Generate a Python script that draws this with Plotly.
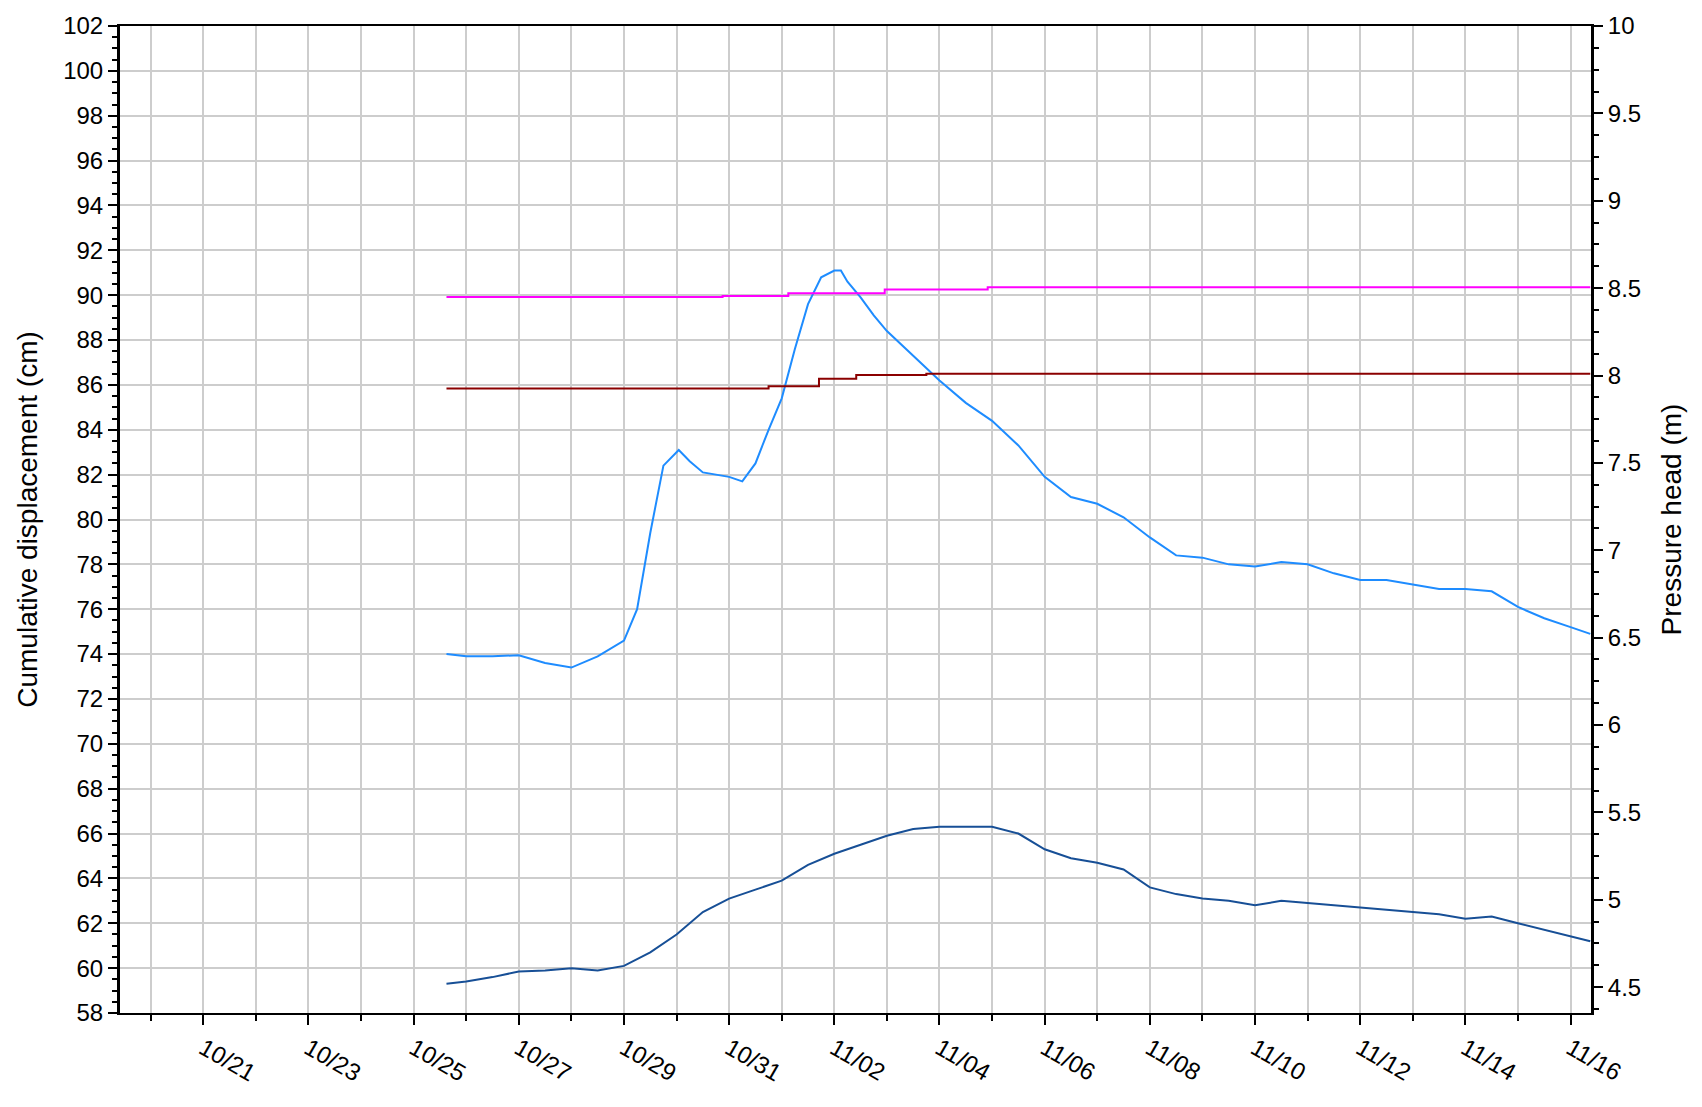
import plotly.graph_objects as go

# ---------------- data ----------------
light_t = ["2010-10-25 15:00", "2010-10-26 00:00", "2010-10-26 12:00", "2010-10-27 00:00",
           "2010-10-27 12:00", "2010-10-28 00:00", "2010-10-28 12:00", "2010-10-29 00:00",
           "2010-10-29 06:00", "2010-10-29 12:00", "2010-10-29 18:00", "2010-10-30 01:00",
           "2010-10-30 06:00", "2010-10-30 12:00", "2010-10-31 00:00", "2010-10-31 06:00",
           "2010-10-31 12:00", "2010-10-31 18:00", "2010-11-01 00:00", "2010-11-01 06:00",
           "2010-11-01 12:00", "2010-11-01 18:00", "2010-11-02 00:00", "2010-11-02 03:00",
           "2010-11-02 06:00", "2010-11-02 12:00", "2010-11-02 18:00", "2010-11-03 00:00",
           "2010-11-03 12:00",
           "2010-11-04 00:00", "2010-11-04 12:00", "2010-11-05 00:00", "2010-11-05 12:00",
           "2010-11-06 00:00", "2010-11-06 12:00", "2010-11-07 00:00", "2010-11-07 12:00",
           "2010-11-08 00:00", "2010-11-08 12:00", "2010-11-09 00:00", "2010-11-09 12:00",
           "2010-11-10 00:00", "2010-11-10 12:00", "2010-11-11 00:00", "2010-11-11 12:00",
           "2010-11-12 00:00", "2010-11-12 12:00", "2010-11-13 00:00", "2010-11-13 12:00",
           "2010-11-14 00:00", "2010-11-14 12:00", "2010-11-15 00:00", "2010-11-15 12:00",
           "2010-11-16 00:00", "2010-11-16 09:00"]
light_v = [74.0, 73.9, 73.9, 73.95, 73.6, 73.4, 73.9, 74.6,
           76.0, 79.4, 82.4, 83.1, 82.6, 82.1, 81.9, 81.7,
           82.5, 84.0, 85.4, 87.6, 89.6, 90.8, 91.1, 91.1,
           90.6, 89.9, 89.1, 88.4, 87.3,
           86.2, 85.2, 84.4, 83.3,
           81.9, 81.0, 80.7, 80.1, 79.2, 78.4, 78.3, 78.0,
           77.9, 78.1, 78.0, 77.6, 77.3, 77.3, 77.1, 76.9,
           76.9, 76.8, 76.1, 75.6, 75.2, 74.9]

dark_t = ["2010-10-25 15:00", "2010-10-26 00:00", "2010-10-26 12:00", "2010-10-27 00:00",
          "2010-10-27 12:00", "2010-10-28 00:00", "2010-10-28 12:00", "2010-10-29 00:00",
          "2010-10-29 12:00", "2010-10-30 00:00", "2010-10-30 12:00", "2010-10-31 00:00",
          "2010-10-31 12:00", "2010-11-01 00:00", "2010-11-01 12:00", "2010-11-02 00:00",
          "2010-11-02 12:00", "2010-11-03 00:00", "2010-11-03 12:00", "2010-11-04 00:00",
          "2010-11-04 12:00", "2010-11-05 00:00", "2010-11-05 12:00", "2010-11-06 00:00",
          "2010-11-06 12:00", "2010-11-07 00:00", "2010-11-07 12:00", "2010-11-08 00:00",
          "2010-11-08 12:00", "2010-11-09 00:00", "2010-11-09 12:00", "2010-11-10 00:00",
          "2010-11-10 12:00", "2010-11-11 00:00", "2010-11-11 12:00", "2010-11-12 00:00",
          "2010-11-12 12:00", "2010-11-13 00:00", "2010-11-13 12:00", "2010-11-14 00:00",
          "2010-11-14 12:00", "2010-11-15 00:00", "2010-11-15 12:00", "2010-11-16 00:00",
          "2010-11-16 09:00"]
dark_v = [59.3, 59.4, 59.6, 59.85, 59.9, 60.0, 59.9, 60.1,
          60.7, 61.5, 62.5, 63.1, 63.5, 63.9, 64.6, 65.1,
          65.5, 65.9, 66.2, 66.3, 66.3, 66.3, 66.0, 65.3,
          64.9, 64.7, 64.4, 63.6, 63.3, 63.1, 63.0, 62.8,
          63.0, 62.9, 62.8, 62.7, 62.6, 62.5, 62.4, 62.2,
          62.3, 62.0, 61.7, 61.4, 61.2]

magenta_t = ["2010-10-25 15:00", "2010-10-30 21:00", "2010-11-01 03:00",
             "2010-11-02 23:00", "2010-11-04 22:00", "2010-11-16 09:00"]
magenta_v = [8.449, 8.455, 8.470, 8.492, 8.505, 8.505]

red_t = ["2010-10-25 15:00", "2010-10-31 18:00", "2010-11-01 17:00",
         "2010-11-02 10:00", "2010-11-03 18:00", "2010-11-16 09:00"]
red_v = [7.926, 7.939, 7.981, 8.003, 8.010, 8.010]

x_range = ["2010-10-19 10:00", "2010-11-16 09:20"]
left_title = "Cumulative displacement (cm)"
right_title = "Pressure head (m)"

# ---------------- figure ----------------
FONT = "Liberation Sans, Arial, sans-serif"
fig = go.Figure()
fig.add_trace(go.Scatter(x=magenta_t, y=magenta_v, mode="lines", line_shape="hv",
                         line=dict(color="#FF00FF", width=2), yaxis="y2"))
fig.add_trace(go.Scatter(x=red_t, y=red_v, mode="lines", line_shape="hv",
                         line=dict(color="#8B0000", width=2), yaxis="y2"))
fig.add_trace(go.Scatter(x=light_t, y=light_v, mode="lines",
                         line=dict(color="#1E8CFF", width=2)))
fig.add_trace(go.Scatter(x=dark_t, y=dark_v, mode="lines",
                         line=dict(color="#174F96", width=2)))

fig.update_layout(
    width=1702, height=1107,
    margin=dict(l=120, r=111, t=20, b=94),
    paper_bgcolor="white", plot_bgcolor="white",
    showlegend=False,
    font=dict(family=FONT, size=24, color="black"),
    xaxis=dict(
        type="date", range=x_range,
        tick0="2010-10-21", dtick=2 * 86400000, tickformat="%m/%d",
        tickangle=30, ticks="outside", ticklen=10, tickwidth=2, tickcolor="black",
        showgrid=True, gridcolor="#CDCDCD", gridwidth=2,
        minor=dict(dtick=86400000, tick0="2010-10-21", showgrid=True,
                   gridcolor="#CDCDCD", gridwidth=2, ticks="outside", ticklen=6,
                   tickwidth=2, tickcolor="black"),
        showline=True, linecolor="black", linewidth=2, mirror=True,
        zeroline=False, tickfont=dict(size=24),
    ),
    yaxis=dict(
        range=[58, 102], dtick=2, tick0=58,
        ticks="outside", ticklen=9, tickwidth=2, tickcolor="black",
        showgrid=True, gridcolor="#CDCDCD", gridwidth=2,
        minor=dict(dtick=0.5, ticks="outside", ticklen=5, tickwidth=2,
                   tickcolor="black", showgrid=False),
        showline=True, linecolor="black", linewidth=3,
        zeroline=False,
        title=dict(text=left_title, font=dict(size=28), standoff=18),
        tickfont=dict(size=24),
    ),
    yaxis2=dict(
        range=[4.352, 10], dtick=0.5, tick0=4.5, overlaying="y", side="right",
        ticks="outside", ticklen=9, tickwidth=2, tickcolor="black",
        showgrid=False,
        minor=dict(dtick=0.125, tick0=4.5, ticks="outside", ticklen=5, tickwidth=2,
                   tickcolor="black", showgrid=False),
        showline=True, linecolor="black", linewidth=3,
        zeroline=False,
        title=dict(text=right_title, font=dict(size=28), standoff=22),
        tickfont=dict(size=24),
    ),
)

fig.write_html("out.html")
